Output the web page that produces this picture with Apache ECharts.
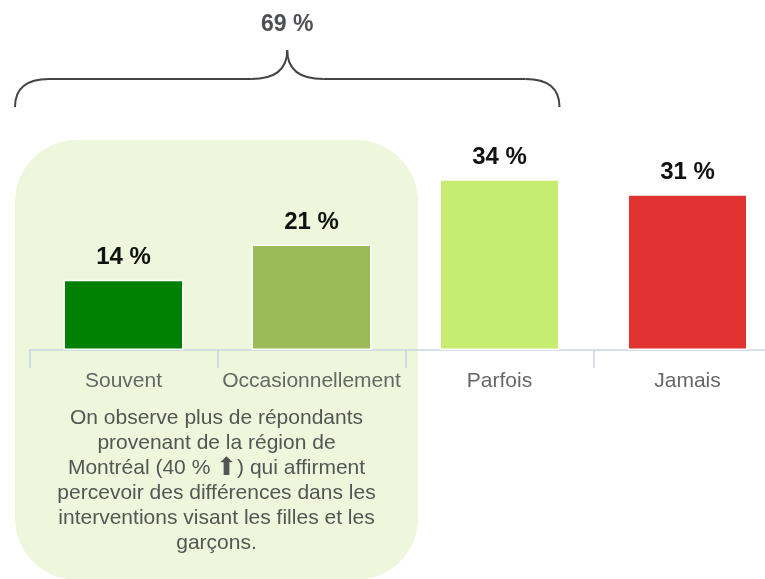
<!DOCTYPE html>
<html>
<head>
<meta charset="utf-8">
<script src="https://cdn.jsdelivr.net/npm/echarts@6/dist/echarts.min.js"></script>
<style>
  html, body { margin: 0; padding: 0; background: #fff; }
  #chart { width: 765px; height: 579px; }
</style>
</head>
<body>
<div id="chart"></div>
<script>
// data
const categories = ['Souvent', 'Occasionnellement', 'Parfois', 'Jamais']
const values = [14, 21, 34, 31]
const barColors = ['#008000', '#9BBB59', '#C7ED70', '#E03331']
const noteLines = [
  'On observe plus de répondants',
  'provenant de la région de',
  'Montréal (40 % {up|⬆}) qui affirment',
  'percevoir des différences dans les',
  'interventions visant les filles et les',
  'garçons.'
]
// the brace groups the first three answers
const bracedCount = 3

const font = '"Liberation Sans", Arial, Helvetica, sans-serif'
const myChart = echarts.init(document.getElementById('chart'))

myChart.setOption({
  animation: false,
  grid: { left: 29.5, width: 752, top: 149, bottom: 229, outerBoundsMode: 'none', containLabel: false },
  xAxis: {
    type: 'category',
    data: categories,
    axisLine: { lineStyle: { color: '#C9D5E3', width: 1.5 } },
    axisTick: { show: true, interval: 0, alignWithLabel: false, length: 18, lineStyle: { color: '#C9D5E3', width: 1.5 } },
    axisLabel: { interval: 0, margin: 21, color: '#666', fontSize: 21, fontFamily: font }
  },
  yAxis: { type: 'value', min: 0, max: 40, show: false, splitLine: { show: false } },
  series: [
    {
      type: 'bar',
      barWidth: 120,
      data: values.map((v, i) => ({ value: v, itemStyle: { color: barColors[i] } })),
      itemStyle: { borderColor: '#fff', borderWidth: 1.5 },
      label: {
        show: true,
        position: 'top',
        distance: 10,
        formatter: p => p.value + ' %',
        color: '#111',
        fontSize: 24,
        fontWeight: 'bold',
        fontFamily: font
      }
    }
  ]
})

// decorations placed from the axis positions
const lastCenter = myChart.convertToPixel({ xAxisIndex: 0 }, categories[bracedCount - 1])
const left = 15
const right = lastCenter + 60
const mid = (left + right) / 2
const total = values.slice(0, bracedCount).reduce((a, b) => a + b, 0)

const braceStyle = { fill: null, stroke: '#444', lineWidth: 2 }
const curve = (x1, y1, c1x, c1y, c2x, c2y, x2, y2) => ({
  type: 'bezierCurve',
  shape: { x1, y1, cpx1: c1x, cpy1: c1y, cpx2: c2x, cpy2: c2y, x2, y2 },
  style: braceStyle
})
const line = (x1, x2) => ({
  type: 'line',
  shape: { x1, y1: 79, x2, y2: 79 },
  style: braceStyle
})

myChart.setOption({
  graphic: [
    {
      type: 'rect',
      z: -10,
      shape: { x: left, y: 140, width: 403, height: 440, r: 62 },
      style: { fill: '#EEF6DB' }
    },
    curve(left, 107, left, 88, left + 12, 79, left + 34, 79),
    line(left + 34, mid - 36),
    curve(mid - 36, 79, mid - 12, 79, mid, 70, mid, 50),
    curve(mid, 50, mid, 70, mid + 12, 79, mid + 36, 79),
    line(mid + 36, right - 34),
    curve(right - 34, 79, right - 12, 79, right, 88, right, 107),
    {
      type: 'text',
      x: mid,
      y: 25,
      style: {
        text: total + ' %',
        align: 'center',
        verticalAlign: 'middle',
        fill: '#4d4f55',
        fontSize: 23,
        fontWeight: 'bold',
        fontFamily: font
      }
    },
    {
      type: 'text',
      x: left + 201.5,
      y: 406,
      style: {
        text: noteLines.join('\n'),
        align: 'center',
        verticalAlign: 'top',
        fill: '#555',
        fontSize: 21,
        lineHeight: 25,
        fontFamily: font,
        rich: {
          up: { fontSize: 25, lineHeight: 25, fill: '#555', fontFamily: '"DejaVu Sans", sans-serif' }
        }
      }
    }
  ]
})
</script>
</body>
</html>
